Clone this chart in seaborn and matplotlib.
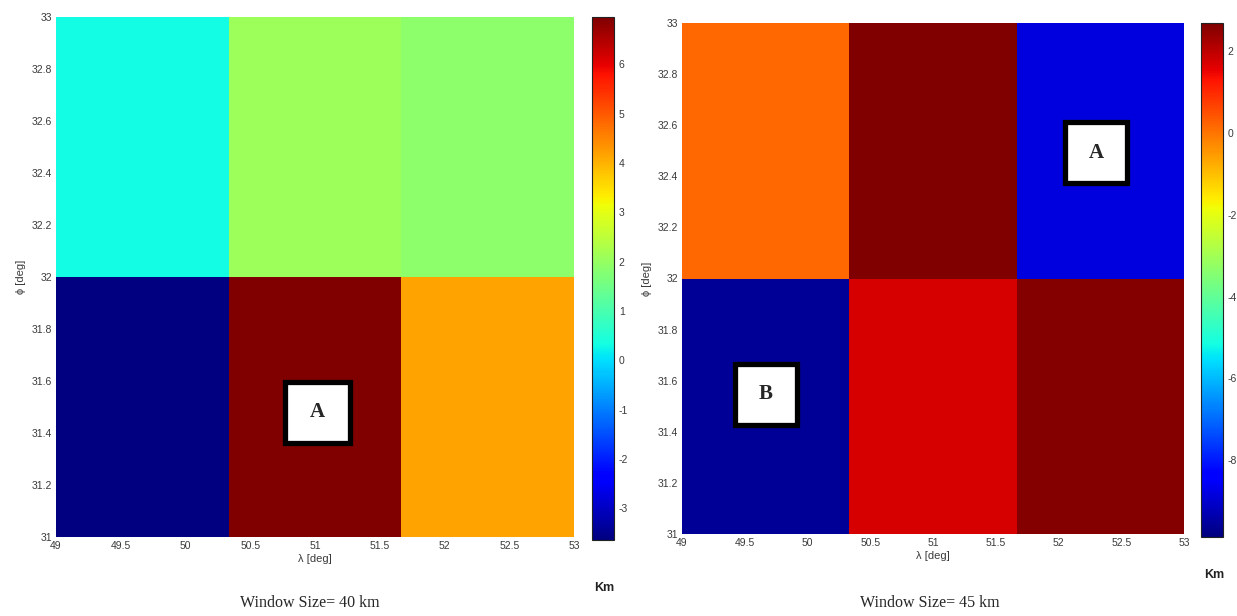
import numpy as np
import pandas as pd
import matplotlib
matplotlib.use("Agg")
import matplotlib.pyplot as plt
import seaborn as sns
from matplotlib.patches import Rectangle

sns.set_style("white")
plt.rcParams['font.family'] = ['Liberation Sans', 'DejaVu Sans']

# ---- data ----
lon_edges = [49, 50.333, 51.667, 53]
lat_rows = ["32-33", "31-32"]          # top row first
left_values = [[0.3, 2.1, 1.9],
               [-3.6, 6.95, 4.15]]
right_values = [[0.15, 2.68, -8.8],
                [-9.6, 1.7, 2.6]]
left_range = (-3.64, 6.96)
right_range = (-9.87, 2.68)
left_cbar_ticks = [-3, -2, -1, 0, 1, 2, 3, 4, 5, 6]
right_cbar_ticks = [-8, -6, -4, -2, 0, 2]
x_ticks = [49, 49.5, 50, 50.5, 51, 51.5, 52, 52.5, 53]
y_ticks = [31, 31.2, 31.4, 31.6, 31.8, 32, 32.2, 32.4, 32.6, 32.8, 33]
captions = ["Window Size= 40 km", "Window Size= 45 km"]

W, H = 1237, 616
fig = plt.figure(figsize=(W / 100, H / 100), dpi=100)


def px_axes(x0, y0, x1, y1):
    return fig.add_axes([x0 / W, 1 - y1 / H, (x1 - x0) / W, (y1 - y0) / H])


def panel(ax_box, cax_box, values, vrange, cticks, boxes, km_xy, caption_x, caption):
    ax = px_axes(*ax_box)
    cax = px_axes(*cax_box)
    df = pd.DataFrame(values, index=lat_rows,
                      columns=[f"{a}-{b}" for a, b in zip(lon_edges[:-1], lon_edges[1:])])
    sns.heatmap(df, ax=ax, cbar_ax=cax, cmap="jet", vmin=vrange[0], vmax=vrange[1],
                xticklabels=False, yticklabels=False, linewidths=0)
    ncols = len(lon_edges) - 1
    span = lon_edges[-1] - lon_edges[0]
    ax.set_xticks([(v - lon_edges[0]) * ncols / span for v in x_ticks])
    ax.set_xticklabels([f"{v:g}" for v in x_ticks])
    ax.set_yticks([(33 - v) for v in y_ticks])
    ax.set_yticklabels([f"{v:g}" for v in y_ticks])
    ax.tick_params(length=0, labelsize=7.5, labelcolor="#3a3a3a", pad=3)
    ax.set_xlabel("λ [deg]", fontsize=8, color="#3a3a3a", labelpad=2)
    ax.set_ylabel("ϕ [deg]", fontsize=8, color="#3a3a3a", labelpad=4)
    for s in ax.spines.values():
        s.set_visible(False)
    # colorbar
    cb = ax.collections[0].colorbar
    cb.set_ticks(cticks)
    cb.set_ticklabels([f"{t:g}" for t in cticks])
    cb.outline.set_visible(True)
    cb.outline.set_linewidth(0.8)
    cb.outline.set_edgecolor("#222222")
    cax.tick_params(direction="in", left=True, right=True, length=4, width=0.6,
                    labelsize=7.5, labelcolor="#3a3a3a", color="#333333")
    fig.text(km_xy[0] / W, 1 - km_xy[1] / H, "Km", fontsize=9, fontweight="bold",
             ha="center", va="center", color="#222222")
    # labelled boxes
    for (fx0, fy0, fx1, fy1, letter) in boxes:
        ax.add_patch(Rectangle((fx0, fy0), fx1 - fx0, fy1 - fy0, transform=ax.transAxes,
                               facecolor="white", edgecolor="black", linewidth=3.8,
                               zorder=5))
        ax.text((fx0 + fx1) / 2, (fy0 + fy1) / 2, letter, transform=ax.transAxes,
                fontsize=15, fontweight="bold", family="Liberation Serif",
                ha="center", va="center", zorder=6)
    fig.text(caption_x / W, 1 - 603 / H, caption, fontsize=11.5,
             family="Liberation Serif", ha="center", va="center")


panel((56, 17, 574, 537), (592, 17, 614, 540), left_values, left_range, left_cbar_ticks,
      [(0.442, 0.181, 0.568, 0.298, "A")], (604, 588), 310, captions[0])
panel((682, 23, 1184, 534), (1201, 23, 1223, 537), right_values, right_range,
      right_cbar_ticks,
      [(0.105, 0.213, 0.229, 0.333, "B"), (0.763, 0.687, 0.886, 0.806, "A")],
      (1214, 575), 930, captions[1])

fig.savefig("out.png", dpi=100)
